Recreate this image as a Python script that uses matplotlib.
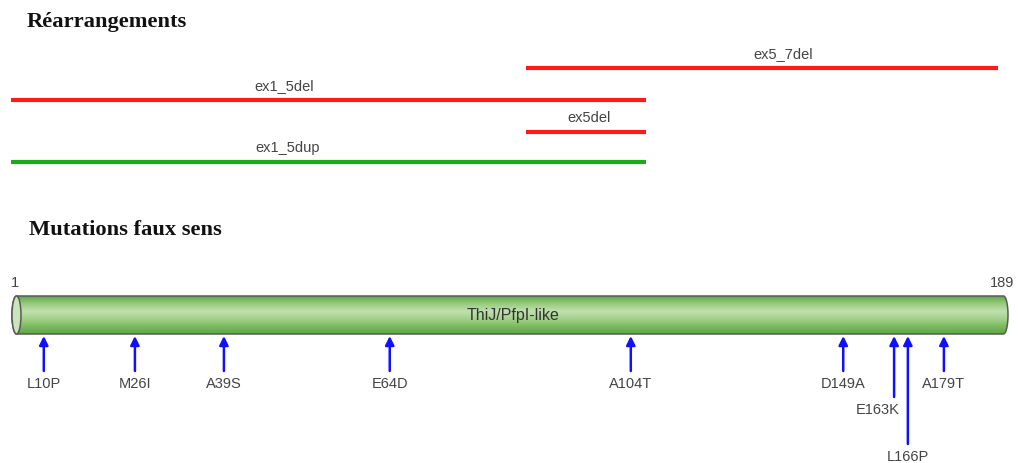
#!/usr/bin/env python3

import numpy as np
import matplotlib
matplotlib.use("Agg")
import matplotlib.pyplot as plt
from matplotlib.path import Path
from matplotlib.patches import PathPatch, Ellipse
from matplotlib.colors import LinearSegmentedColormap

# protein length and domain
prot_start, prot_end = 1, 189
domain_name = "ThiJ/PfpI-like"

# large rearrangements: name, start, end (same scale as the protein bar)
rearr_names = ["ex5_7del", "ex1_5del", "ex5del", "ex1_5dup"]
rearr_start = [98.0, 0.8, 98.0, 0.8]
rearr_end = [187.1, 120.7, 120.7, 120.7]
rearr_kind = ["del", "del", "del", "dup"]

# missense mutations and where they sit along the bar
mut_names = ["L10P", "M26I", "A39S", "E64D", "A104T", "D149A", "E163K", "L166P", "A179T"]
mut_pos = [7.0, 24.2, 41.0, 72.3, 117.8, 157.9, 167.5, 170.1, 176.9]

W, H = 1018, 464
PX = (prot_end - prot_start) / 996.0    # residues per pixel
X0 = prot_start - 12 * PX


def fx(px):
    return X0 + px * PX


fig = plt.figure(figsize=(W / 100, H / 100), dpi=100)
ax = fig.add_axes([0, 0, 1, 1])
ax.set_xlim(fx(0), fx(W))
ax.set_ylim(H, 0)
ax.axis("off")

title_font = dict(family="Liberation Serif", fontweight="bold", fontsize=16.2, color="#111111")
label_font = dict(family="Liberation Sans", fontsize=10.5, color="#444444")

ax.text(fx(27), 22, "Réarrangements", ha="left", va="center", **title_font)
ax.text(fx(29), 230, "Mutations faux sens", ha="left", va="center", **title_font)

# rearrangement tracks
rows = [69, 101, 133, 163]
label_frac = [0.545, 0.43, 0.525, 0.435]
colors = {"del": "#ff1a1a", "dup": "#1aaa1a"}
for name, s, e, kind, y, fr in zip(rearr_names, rearr_start, rearr_end, rearr_kind, rows, label_frac):
    ax.plot([s, e], [y, y], color=colors[kind], lw=3, solid_capstyle="butt")
    ax.text(s + (e - s) * fr, y - 15, name, ha="center", va="center", **label_font)

# protein cylinder
top, bot = 297, 335
yc = (top + bot) / 2
ry = (bot - top) / 2
rx = 4.5 * PX
xl = prot_start + rx
xr = prot_end - rx

t = np.linspace(-np.pi / 2, np.pi / 2, 40)
right_cap = np.column_stack([xr + rx * np.cos(t), yc + ry * np.sin(t)])
left_cap = np.column_stack([xl - rx * np.cos(t), yc - ry * np.sin(t)])
verts = np.vstack([[[xl, top]], right_cap, [[xl, bot]], left_cap, [[xl, top]]])
body = Path(verts, closed=True)

grad = LinearSegmentedColormap.from_list(
    "tube", ["#62a848", "#98cc80", "#c0e0ae", "#a4d28c", "#7cbc60", "#5ea544"])
img = ax.imshow(np.linspace(0, 1, 64).reshape(-1, 1), cmap=grad, aspect="auto",
                extent=(prot_start, prot_end, bot, top), origin="upper", zorder=2)
patch = PathPatch(body, facecolor="none", edgecolor="#5a5a5a", lw=1.1, zorder=3)
ax.add_patch(patch)
img.set_clip_path(patch)
ax.add_patch(Ellipse((xl, yc), 2 * rx, 2 * ry, facecolor="#c9e6b9",
                     edgecolor="#5a5a5a", lw=1.1, zorder=4))

ax.text((prot_start + prot_end) / 2 + 0.5, yc, domain_name, ha="center", va="center",
        family="Liberation Sans", fontsize=11.5, color="#333333", zorder=5)
ax.text(fx(15), 283, str(prot_start), ha="center", va="center", **label_font)
ax.text(fx(1002), 283, str(prot_end), ha="center", va="center", **label_font)

# missense arrows; crowded ones get longer tails
tails = {"E163K": 398, "L166P": 445}
label_dx = {"E163K": -16}
for name, p in zip(mut_names, mut_pos):
    y_end = tails.get(name, 372)
    ax.annotate("", xy=(p, bot + 2), xytext=(p, y_end),
                arrowprops=dict(arrowstyle="-|>", color="#1010ff", lw=1.8,
                                mutation_scale=13, shrinkA=0, shrinkB=0), zorder=5)
    ax.text(p + label_dx.get(name, 0) * PX, y_end + 12, name, ha="center", va="center", **label_font)

fig.savefig("out.png", dpi=100, facecolor="white")
